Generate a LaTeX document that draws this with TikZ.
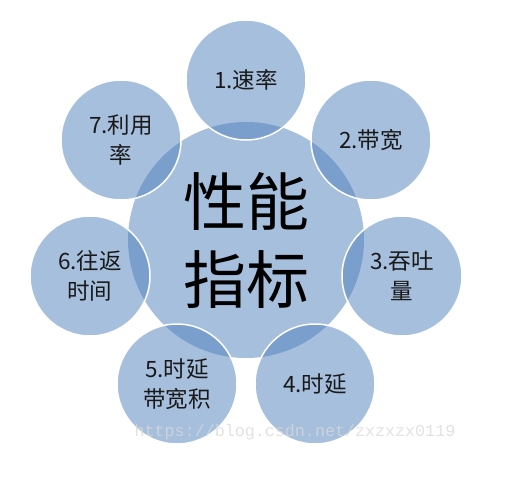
\documentclass[tikz,border=0pt]{standalone}
\usepackage{fontspec}
\newfontfamily\cjk{Noto Sans CJK SC}
\newfontfamily\wmfont{Liberation Mono}
\definecolor{officeblue}{RGB}{79,129,189}
\begin{document}
\begin{tikzpicture}[x=1pt,y=-1pt,
  hub/.style={circle,minimum size=236pt,inner sep=0pt,fill=officeblue,fill opacity=0.5,text opacity=1},
  sat/.style={circle,minimum size=120pt,inner sep=0pt,fill=officeblue,fill opacity=0.5,draw=white,draw opacity=1,line width=1.5pt,text opacity=1,
    font=\cjk\fontsize{22.5}{30}\selectfont,align=center,text=black!90}]
\useasboundingbox (0,0) rectangle (515,479);
\fill[white] (0,0) rectangle (515,479);
\node[hub,font=\cjk\fontsize{63}{78}\selectfont,align=center] (c) at (246,240) {性能\\指标};
\node[sat] (s1) at (246,80) {1.速率};
\node[sat] (s2) at (371,140) {2.带宽};
\node[sat] (s3) at (402,276) {3.吞吐\\量};
\node[sat] (s4) at (315,384) {4.时延};
\node[sat] (s5) at (177,384) {5.时延\\带宽积};
\node[sat] (s6) at (90,276) {6.往返\\时间};
\node[sat] (s7) at (121,140) {7.利用\\率};
\node[font=\wmfont\fontsize{16.7}{18}\selectfont,text=gray!30,text opacity=0.75] (wm) at (295,432) {https://blog.csdn.net/zxzxzx0119};
\end{tikzpicture}
\end{document}
